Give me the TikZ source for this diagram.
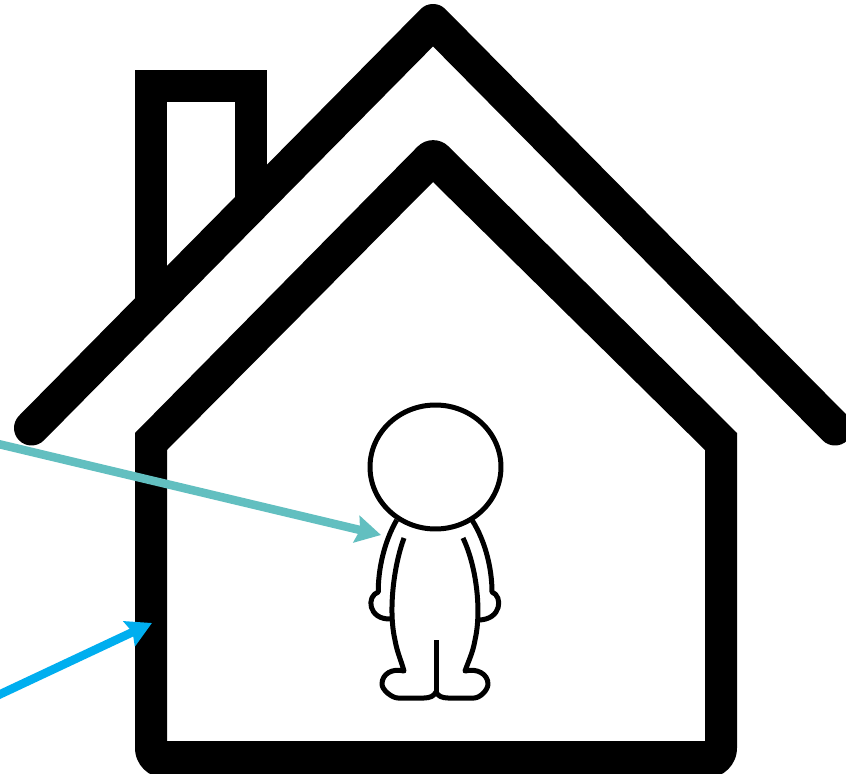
\documentclass[tikz,border=0pt]{standalone}
\usetikzlibrary{arrows.meta,shapes.geometric}
\definecolor{tealarrow}{HTML}{62BFC0}
\definecolor{bluearrow}{HTML}{00AEEF}
\tikzset{
    roofline/.style={draw=black, line width=0.7cm, line join=round, line cap=round},
    chimney/.style={draw=black, line width=0.64cm, line join=miter},
    figure/.style={draw=black, line width=0.1cm, line join=round},
    pointer/.style={line width=0.17cm, -{Stealth[length=0.5cm, width=0.54cm, inset=0.07cm]}}
}
\begin{document}
\begin{tikzpicture}[x=0.02cm, y=-0.02cm]
    \useasboundingbox (0,0) rectangle (846,774);
    \clip (0,0) rectangle (846,774);
    \fill[white] (0,0) rectangle (846,774);

    % Define arrow ends
    \coordinate (tealstart) at (-10,442);
    \coordinate (tealtip) at (381,535);
    \coordinate (bluestart) at (-10,699);
    \coordinate (bluetip) at (152,623);

    % Draw house
    \draw[chimney] (151,304) -- (151,86) -- (251,86) -- (251,204);
    \draw[roofline] (31.5,428) -- (433,21.5) -- (835,428);
    \fill[black, even odd rule] (135,433) [rounded corners=0.44cm] -- (433,131)
        [sharp corners] -- (737,433) [rounded corners=0.6cm] -- (737,778) -- (135,778)
        [sharp corners] -- cycle
        (167,450) -- (433,182) -- (705,450) -- (705,741) -- (167,741) -- cycle;

    % Draw person
    \node[ellipse, figure, fill=white, minimum width=2.62cm, minimum height=2.48cm, inner sep=0pt] (head) at (435.5,467) {};
    \draw[figure] (396.7,520) .. controls (384,542) and (378,570) .. (378.3,592)
        .. controls (366,596) and (368,620) .. (391,619);
    \draw[figure] (472,520) .. controls (486,542) and (492,570) .. (492,592)
        .. controls (503,596) and (502,620) .. (478,620);
    \draw[figure] (404,538) .. controls (394,565) and (388,610) .. (395,640)
        .. controls (397,652) and (401,660) .. (404,671)
        .. controls (392,668) and (382,674) .. (382,684)
        .. controls (382,690) and (392,698) .. (398,698)
        -- (424,698) .. controls (430,698) and (434,696) .. (436,692)
        .. controls (438,696) and (442,698) .. (448,698)
        -- (474,698) .. controls (480,698) and (488,690) .. (488,684)
        .. controls (488,674) and (477,668) .. (465,671)
        .. controls (469,660) and (473,652) .. (475,640)
        .. controls (482,610) and (476,565) .. (463,538);
    \draw[figure] (436,640) -- (436,692);

    % Draw arrows
    \draw[pointer, tealarrow] (tealstart) -- (tealtip);
    \draw[pointer, bluearrow] (bluestart) -- (bluetip);
\end{tikzpicture}
\end{document}
